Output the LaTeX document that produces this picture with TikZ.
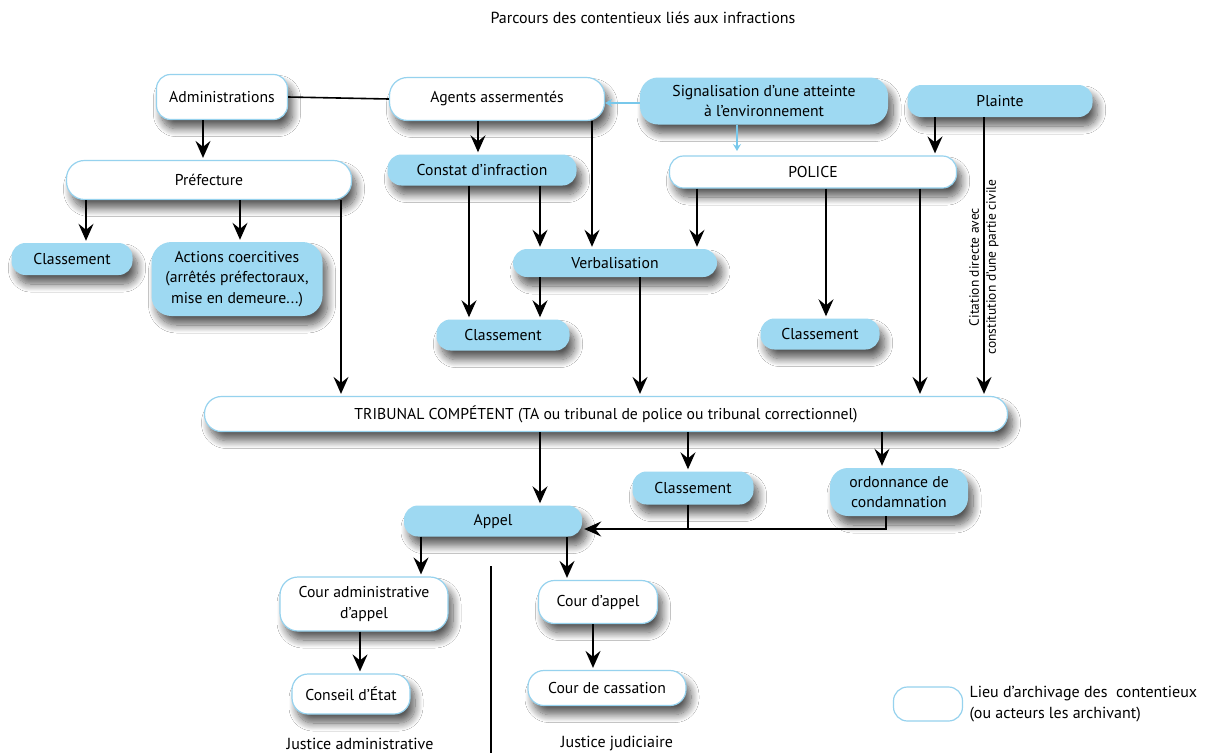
\documentclass[tikz,border=0pt]{standalone}
\usepackage{fontspec}
\setmainfont{PT Sans}
\usetikzlibrary{arrows.meta,shadows.blur}
\definecolor{boxblue}{RGB}{158,217,242}
\definecolor{edgeblue}{RGB}{150,210,238}
\definecolor{sigblue}{RGB}{120,200,235}
\begin{document}
\begin{tikzpicture}[x=1pt,y=-1pt,
  base/.style={rectangle, rounded corners=14pt, inner sep=2pt, align=center,
    font=\fontsize{15.7}{20.5}\selectfont,
    blur shadow={shadow xshift=5pt, shadow yshift=-9pt, shadow blur steps=12, shadow opacity=65, shadow blur radius=8pt}},
  wbox/.style={base, draw=edgeblue, line width=1.2pt, fill=white},
  bbox/.style={base, fill=boxblue},
  arr/.style={-{Stealth[length=17pt,width=15pt,inset=6pt]}, line width=1.8pt, shorten >=2pt},
  larr/.style={-{Stealth[length=7pt,width=8pt,inset=2.5pt]}, line width=1.1pt, draw=sigblue},
  lbl/.style={font=\fontsize{16}{21}\selectfont}
]
\useasboundingbox (0,0) rectangle (1211,753);
\fill[white] (0,0) rectangle (1211,753);

\node[lbl] (title) at (643,18) {Parcours des contentieux liés aux infractions};

\node[wbox, minimum width=131pt, minimum height=45pt] (adm) at (222,97) {Administrations};
\node[wbox, minimum width=215pt, minimum height=43pt, rounded corners=18pt] (agt) at (497,99) {Agents assermentés};
\node[bbox, minimum width=248pt, minimum height=47pt, rounded corners=18pt] (sig) at (764,101) {Signalisation d'une atteinte\\à l'environnement};
\node[bbox, minimum width=185pt, minimum height=32pt] (pla) at (1000,101) {Plainte};
\node[wbox, minimum width=285pt, minimum height=39pt, rounded corners=18pt] (pre) at (209,180) {Préfecture};
\node[bbox, minimum width=189pt, minimum height=31pt] (con) at (482,170) {Constat d'infraction};
\node[wbox, minimum width=287pt, minimum height=32pt] (pol) at (813,172) {POLICE};
\node[bbox, minimum width=121pt, minimum height=32pt] (cl1) at (72,259) {Classement};
\node[bbox, minimum width=171pt, minimum height=74pt, rounded corners=20pt] (act) at (237,279) {Actions coercitives\\(arrêtés préfectoraux,\\mise en demeure...)};
\node[bbox, minimum width=204pt, minimum height=28pt] (ver) at (615,263) {Verbalisation};
\node[bbox, minimum width=133pt, minimum height=31pt] (cl2) at (503,335) {Classement};
\node[bbox, minimum width=119pt, minimum height=31pt] (cl3) at (820,334) {Classement};
\node[wbox, minimum width=803pt, minimum height=35pt, rounded corners=17pt] (tri) at (606,414) {TRIBUNAL COMPÉTENT (TA ou tribunal de police ou tribunal correctionnel)};
\node[bbox, minimum width=121pt, minimum height=33pt] (cl4) at (693,488) {Classement};
\node[bbox, minimum width=138pt, minimum height=48pt, rounded corners=18pt] (ord) at (899,492) {ordonnance de\\condamnation};
\node[bbox, minimum width=178pt, minimum height=31pt] (app) at (493,521) {Appel};
\node[wbox, minimum width=168pt, minimum height=54pt, rounded corners=18pt] (cad) at (364,604) {Cour administrative\\d'appel};
\node[wbox, minimum width=118pt, minimum height=40pt, rounded corners=16pt] (cde) at (351,694) {Conseil d'État};
\node[wbox, minimum width=119pt, minimum height=43pt, rounded corners=16pt] (cap) at (598,602) {Cour d'appel};
\node[wbox, minimum width=158pt, minimum height=35pt, rounded corners=16pt] (cca) at (607,688) {Cour de cassation};

\node[draw=edgeblue, line width=1.2pt, fill=white, rounded corners=14pt, minimum width=69pt, minimum height=34pt] (leg) at (928,704) {};
\node[lbl, anchor=west, align=left] (legt) at (966,704) {Lieu d'archivage des\ \ contentieux\\(ou acteurs les archivant)};

\node[lbl] (ja) at (360,744) {Justice administrative};
\node[lbl] (jj) at (617,744) {Justice judiciaire};
\coordinate (septop) at (491,566);
\coordinate (sepbot) at (491,753);
\draw[line width=1.3pt] (septop) -- (sepbot);

% connectors
\draw[line width=1.6pt] (adm.east) -- (agt.west);
\draw[arr] (203,0 |- adm.south) -- (203,0 |- pre.north);
\draw[arr] (478,0 |- agt.south) -- (478,0 |- con.north);
\draw[arr] (592,0 |- agt.south) -- (592,0 |- ver.north);
\draw[larr] (sig.west |- 0,103) -- (agt.east |- 0,103);
\draw[larr] (737,0 |- sig.south) -- (737,151);
\draw[arr] (935,0 |- pla.south) -- (935,0 |- pol.north);
\draw[arr] (984,0 |- pla.south) -- (984,0 |- tri.north);
\node[rotate=90, align=center, font=\fontsize{13.5}{17}\selectfont] (cit) at (984,267) {Citation directe avec\\constitution d'une partie civile};

\draw[arr] (86,0 |- pre.south) -- (86,0 |- cl1.north);
\draw[arr] (240,0 |- pre.south) -- (240,0 |- act.north);
\draw[arr] (341,0 |- pre.south) -- (341,0 |- tri.north);
\draw[arr] (469,0 |- con.south) -- (469,0 |- cl2.north);
\draw[arr] (540,0 |- con.south) -- (540,0 |- ver.north);
\draw[arr] (540,0 |- ver.south) -- (540,0 |- cl2.north);
\draw[arr] (640,0 |- ver.south) -- (640,0 |- tri.north);
\draw[arr] (697,0 |- pol.south) -- (697,0 |- ver.north);
\draw[arr] (826,0 |- pol.south) -- (826,0 |- cl3.north);
\draw[arr] (920,0 |- pol.south) -- (920,0 |- tri.north);

\draw[arr] (540,0 |- tri.south) -- (540,0 |- app.north);
\draw[arr] (688,0 |- tri.south) -- (688,0 |- cl4.north);
\draw[arr] (882,0 |- tri.south) -- (882,0 |- ord.north);
\coordinate (mj) at (886,529);
\draw[line width=1.8pt] (688,0 |- cl4.south) -- (688,0 |- mj);
\draw[arr] (886,0 |- ord.south) -- (mj) -- (app.east |- mj);
\draw[arr] (421,0 |- app.south) -- (421,0 |- cad.north);
\draw[arr] (567,0 |- app.south) -- (567,0 |- cap.north);
\draw[arr] (360,0 |- cad.south) -- (360,0 |- cde.north);
\draw[arr] (593,0 |- cap.south) -- (593,0 |- cca.north);
\end{tikzpicture}
\end{document}
